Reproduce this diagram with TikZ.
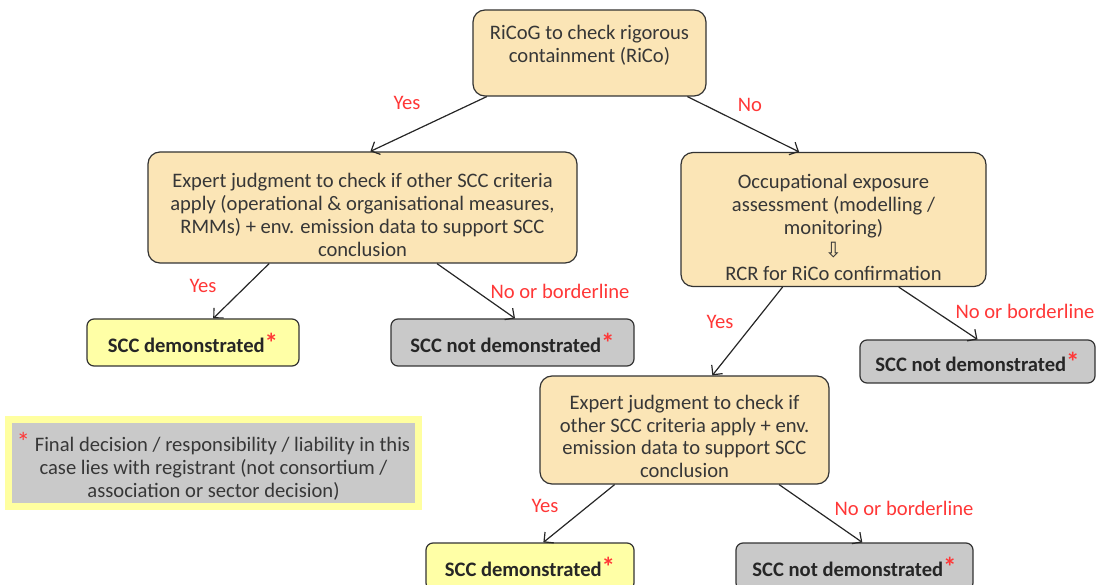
\documentclass[tikz,border=0pt]{standalone}
\usepackage{fontspec}
\setmainfont{Carlito}
\newfontfamily\arrowfont{DejaVu Sans}
\usetikzlibrary{arrows.meta,% barbed arrow tips
shapes}
\definecolor{wheatbox}{RGB}{251,229,182}
\definecolor{yesbox}{RGB}{255,255,166}
\definecolor{nobox}{RGB}{201,201,201}
\definecolor{noteedge}{RGB}{255,255,160}
\definecolor{lblred}{RGB}{255,55,55}
\definecolor{boxtext}{RGB}{55,55,55}
\newcommand{\regstar}{\textcolor{lblred}{\fontsize{27}{27}\selectfont *}}
\tikzset{every node/.style={font=\fontsize{20.6}{23}\selectfont}}
\tikzset{check/.style={draw=black!80, line width=1.2pt, rounded corners=12pt,
    fill=wheatbox, align=center, text=boxtext, inner sep=0pt, text depth=6pt},
  outcome/.style={draw=black!80, line width=1.2pt, rounded corners=7pt,
    font=\fontsize{20.6}{23}\selectfont\bfseries, text=black!85, inner sep=0pt},
  decision/.style={text=lblred},
  flow/.style={-{Straight Barb[length=7pt,width=14pt]}, line width=1.2pt, draw=black!85}}

\begin{document}
\begin{tikzpicture}[x=1pt, y=-1pt]
  \useasboundingbox (0,0) rectangle (1096,585);
  % \draw[step=50,gray,ultra thin] (0,0) grid (1096,585);

  % questions
  \node[check, minimum width=233pt, minimum height=86pt, text height=26pt] (rico) at (589.5,53)
    {RiCoG to check rigorous\\ containment (RiCo)};
  \node[check, minimum width=429pt, minimum height=109pt, text height=105pt] (expertA) at (362.5,207.5)
    {Expert judgment to check if other SCC criteria\\ apply (operational \& organisational measures,\\ RMMs) + env. emission data to support SCC\\ conclusion};
  \node[check, minimum width=305pt, minimum height=131pt, text height=128pt] (exposure) at (833.5,219.5)
    {Occupational exposure\\ assessment (modelling /\\ monitoring)\\ {\arrowfont\fontsize{21}{21}\selectfont ⇩}\\ RCR for RiCo confirmation};
  \node[check, minimum width=289pt, minimum height=108pt, text height=102pt] (expertB) at (684.5,430)
    {Expert judgment to check if\\ other SCC criteria apply + env.\\ emission data to support SCC\\ conclusion};

  % outcomes
  \node[outcome, fill=yesbox, minimum width=212pt, minimum height=47pt] (demA) at (193,342.5)
    {SCC demonstrated\regstar};
  \node[outcome, fill=nobox, minimum width=243pt, minimum height=47pt] (notA) at (512.5,342.5)
    {SCC not demonstrated\regstar};
  \node[outcome, fill=nobox, minimum width=235pt, minimum height=43pt] (notC) at (977.5,361.5)
    {SCC not demonstrated\regstar};
  \node[outcome, fill=yesbox, minimum width=208pt, minimum height=47pt] (demB) at (530,566.5)
    {SCC demonstrated\regstar};
  \node[outcome, fill=nobox, minimum width=237pt, minimum height=47pt] (notB) at (854.5,566.5)
    {SCC not demonstrated\regstar};

  % note
  \node[fill=nobox, draw=noteedge, line width=7pt, minimum width=410pt, minimum height=87pt,
    align=center, text=boxtext, inner sep=0pt, text depth=6pt, text height=75pt] (note) at (213.5,463)
    {\regstar\ Final decision / responsibility / liability in this\\ case lies with registrant (not consortium /\\ association or sector decision)};

  % connectors
  \draw[flow] (rico.203) -- (expertA.82);
  \draw[flow] (rico.336) -- (exposure.117);
  \draw[flow] (expertA.211) -- (demA.50);
  \draw[flow] (expertA.323) -- (notA.84);
  \draw[flow] (exposure.233) -- (expertB.63);
  \draw[flow] (exposure.314) -- (notC.north);
  \draw[flow] (expertB.218) -- (demB.61);
  \draw[flow] (expertB.330) -- (notB.72);

  \node[decision] (yesA) at (407,103) {Yes};
  \node[decision] (noA) at (750,105) {No};
  \node[decision] (yesB) at (203,286) {Yes};
  \node[decision] (noB) at (560,291) {No or borderline};
  \node[decision] (yesC) at (720,322) {Yes};
  \node[decision] (noC) at (1025,311) {No or borderline};
  \node[decision] (yesD) at (545,506) {Yes};
  \node[decision] (noD) at (904,508) {No or borderline};
\end{tikzpicture}
\end{document}
